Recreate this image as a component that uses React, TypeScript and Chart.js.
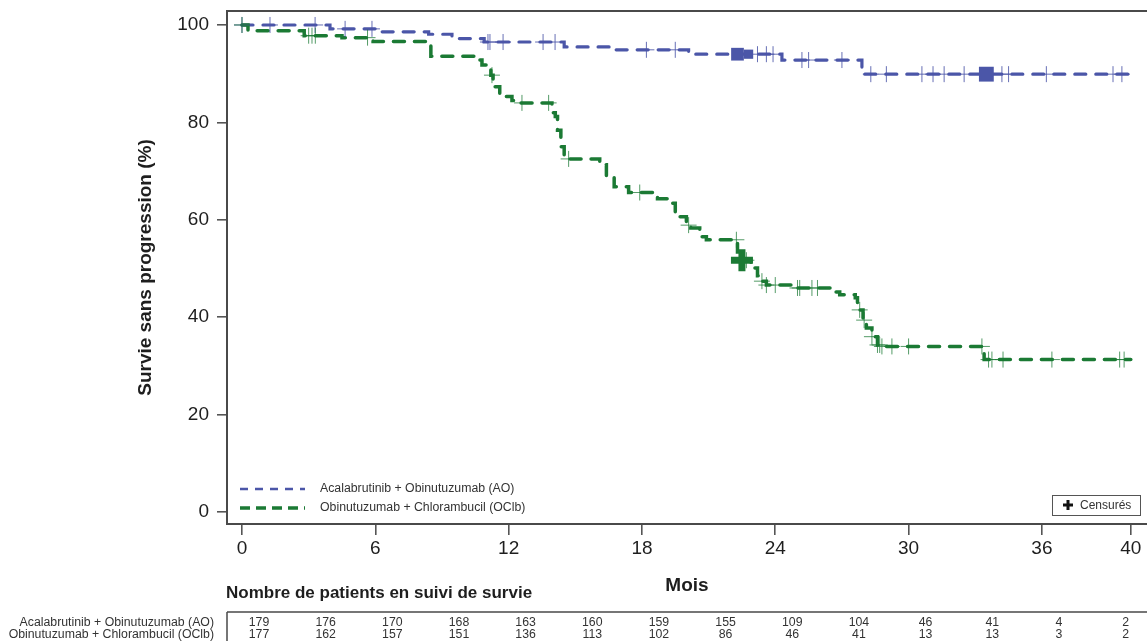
import React, { useEffect, useRef } from "react";
import { Chart, registerables } from "chart.js";

Chart.register(...registerables);

const FONT = "'Liberation Sans', Arial, Helvetica, sans-serif";
const BLUE = "#4b56a8";
const BLUE_MARK = "rgba(75,86,168,0.85)";
const GREEN = "#1b7a34";
const GREEN_MARK = "rgba(27,122,52,0.75)";
const AXIS = "#4a4a4a";
const TEXT = "#1e1e1e";

const seriesNames = ["Acalabrutinib + Obinutuzumab (AO)", "Obinutuzumab + Chlorambucil (OClb)"];
const xTitle = "Mois";
const yTitle = "Survie sans progression (%)";
const tableTitle = "Nombre de patients en suivi de survie";
const censorLabel = "Censurés";

// Kaplan-Meier steps (month, survival % after the step)
const aoTimes = [0, 3.96, 6.2, 8.4, 9.45, 10.9, 14.5, 16.8, 20.1, 24.3, 27.9, 40];
const aoSurv = [100, 99.2, 98.6, 98.1, 97.2, 96.5, 95.5, 94.9, 94.0, 92.8, 89.9, 89.9];

const ocTimes = [
  0, 0.27, 2.8, 4.5, 5.9, 8.5, 10.6, 10.8, 11.0, 11.2, 11.3, 11.6, 12.15, 12.4, 13.95, 14.1, 14.2,
  14.35, 14.5, 16.1, 16.4, 16.75, 17.4, 18.7, 19.35, 19.5, 19.6, 20.0, 20.2, 20.6, 20.9, 22.3, 22.5,
  22.9, 23.2, 23.4, 23.6, 24.75, 26.55, 26.9, 27.6, 27.7, 27.95, 28.1, 28.35, 28.6, 28.75, 33.4, 40,
];
const ocSurv = [
  100, 98.8, 97.8, 97.4, 96.6, 93.6, 92.8, 91.8, 90.8, 89.7, 87.3, 85.3, 84.5, 84.0, 82.0, 81.2, 78.4,
  75.0, 72.5, 71.3, 68.9, 66.8, 65.6, 64.3, 63.4, 61.4, 60.6, 58.9, 58.3, 56.5, 55.9, 53.4, 51.7,
  50.1, 48.5, 47.4, 46.6, 46.0, 45.2, 44.6, 44.0, 41.5, 39.4, 37.8, 36.0, 34.3, 34.0, 31.3, 31.3,
];

// censored observations (months)
const aoCensorTimes = [
  0, 1.26, 3.29, 4.64, 5.85, 11.07, 11.16, 11.75, 13.55, 14.09, 18.2, 19.5, 23.2, 23.6, 23.9, 25.2,
  25.5, 27.0, 28.3, 29.0, 30.6, 31.1, 31.6, 32.5, 34.2, 34.5, 36.2, 39.2, 39.6,
];
const aoBigCensorTimes = [22.3, 22.8, 33.5];
const aoBigCensorSizes = [9, 6.5, 10.5];
const ocCensorTimes = [
  0, 3.0, 3.15, 3.3, 5.65, 11.25, 12.6, 13.8, 14.7, 17.9, 20.1, 22.25, 22.7, 23.4, 23.6, 24.0, 25.0,
  25.1, 25.65, 25.9, 27.8, 28.0, 28.35, 28.6, 28.7, 28.8, 29.25, 30.0, 33.3, 33.6, 33.75, 34.25,
  36.45, 39.5, 39.7,
];
const ocBigCensorTimes = [22.5];

const xTicks = [0, 6, 12, 18, 24, 30, 36, 40];
const yTicks = [0, 20, 40, 60, 80, 100];

const tableMonths = [0, 3, 6, 9, 12, 15, 18, 21, 24, 27, 30, 33, 36, 39];
const aoAtRisk = [179, 176, 170, 168, 163, 160, 159, 155, 109, 104, 46, 41, 4, 2];
const ocAtRisk = [177, 162, 157, 151, 136, 113, 102, 86, 46, 41, 13, 13, 3, 2];

function stepValue(times: number[], surv: number[], t: number) {
  let v = surv[0];
  for (let i = 0; i < times.length; i++) if (times[i] <= t) v = surv[i];
  return v;
}

const kmPoints = (times: number[], surv: number[]) => times.map((t, i) => ({ x: t, y: surv[i] }));
const censorPoints = (ct: number[], times: number[], surv: number[]) =>
  ct.map((t) => ({ x: t, y: stepValue(times, surv, t) }));

export default function App() {
  const ref = useRef<HTMLCanvasElement | null>(null);

  useEffect(() => {
    if (!ref.current) return;

    const overlay = {
      id: "kmOverlay",
      afterDraw(chart: any) {
        const { ctx, chartArea } = chart;
        const { left, top, right, bottom } = chartArea;
        const xs = chart.scales.x;
        ctx.save();
        // top frame line
        ctx.strokeStyle = AXIS;
        ctx.lineWidth = 2;
        ctx.beginPath();
        ctx.moveTo(left, top);
        ctx.lineTo(right, top);
        ctx.stroke();

        // legend
        const lx0 = left + 13;
        const lx1 = left + 78;
        const legendY = [bottom - 35, bottom - 16];
        const legendColors = [BLUE, GREEN];
        const legendDash = [[8, 7], [10, 6]];
        const legendWidth = [2.5, 3.5];
        ctx.font = `12.3px ${FONT}`;
        ctx.textBaseline = "middle";
        ctx.textAlign = "left";
        for (let i = 0; i < 2; i++) {
          ctx.strokeStyle = legendColors[i];
          ctx.lineWidth = legendWidth[i];
          ctx.setLineDash(legendDash[i]);
          ctx.beginPath();
          ctx.moveTo(lx0, legendY[i]);
          ctx.lineTo(lx1, legendY[i]);
          ctx.stroke();
          ctx.fillStyle = "#333";
          ctx.fillText(seriesNames[i], left + 93, legendY[i]);
        }
        ctx.setLineDash([]);

        // Censurés box
        const bx0 = right - 95;
        const bx1 = right - 7;
        const by0 = bottom - 29;
        const by1 = bottom - 9;
        ctx.strokeStyle = "#555";
        ctx.lineWidth = 1;
        ctx.strokeRect(bx0 + 0.5, by0 + 0.5, bx1 - bx0, by1 - by0);
        const pcx = bx0 + 16;
        const pcy = (by0 + by1) / 2;
        ctx.fillStyle = "#111";
        ctx.fillRect(pcx - 5, pcy - 1.5, 10, 3);
        ctx.fillRect(pcx - 1.5, pcy - 5, 3, 10);
        ctx.fillStyle = "#333";
        ctx.font = `12px ${FONT}`;
        ctx.fillText(censorLabel, bx0 + 28, pcy + 0.5);

        // number-at-risk table
        ctx.fillStyle = TEXT;
        ctx.font = `bold 17px ${FONT}`;
        ctx.textAlign = "left";
        ctx.fillText(tableTitle, left - 1, 593);
        ctx.strokeStyle = AXIS;
        ctx.lineWidth = 1.5;
        ctx.beginPath();
        ctx.moveTo(left, 612);
        ctx.lineTo(right, 612);
        ctx.moveTo(left, 612);
        ctx.lineTo(left, 641);
        ctx.stroke();
        const rowY = [623, 635];
        const rows = [aoAtRisk, ocAtRisk];
        ctx.font = `12.3px ${FONT}`;
        for (let r = 0; r < 2; r++) {
          ctx.textAlign = "right";
          ctx.fillStyle = "#333";
          ctx.fillText(seriesNames[r], left - 13, rowY[r]);
          ctx.textAlign = "center";
          rows[r].forEach((n, i) => {
            ctx.fillText(String(n), xs.getPixelForValue(tableMonths[i]) + 17, rowY[r]);
          });
        }
        ctx.restore();
      },
    };

    const lineCommon = {
      type: "line" as const,
      stepped: "before" as const,
      borderWidth: 3.5,
      borderCapStyle: "round" as const,
      borderDash: [11, 10],
      pointRadius: 0,
      fill: false,
    };

    const chart = new Chart(ref.current, {
      type: "line",
      data: {
        datasets: [
          {
            type: "line",
            label: "OClb big censor",
            data: censorPoints(ocBigCensorTimes, ocTimes, ocSurv),
            showLine: false,
            pointStyle: "cross",
            pointRadius: 11,
            pointBorderWidth: 7,
            pointBorderColor: GREEN,
            borderColor: GREEN,
          },
          {
            type: "line",
            label: "AO big censor",
            data: censorPoints(aoBigCensorTimes, aoTimes, aoSurv),
            showLine: false,
            pointStyle: "rect",
            pointRadius: aoBigCensorSizes,
            pointBorderWidth: 0,
            pointBackgroundColor: BLUE,
            pointBorderColor: BLUE,
            borderColor: BLUE,
          },
          {
            type: "line",
            label: "OClb censor",
            data: censorPoints(ocCensorTimes, ocTimes, ocSurv),
            showLine: false,
            pointStyle: "cross",
            pointRadius: 8,
            pointBorderWidth: 1,
            pointBorderColor: GREEN_MARK,
            borderColor: GREEN_MARK,
          },
          {
            type: "line",
            label: "AO censor",
            data: censorPoints(aoCensorTimes, aoTimes, aoSurv),
            showLine: false,
            pointStyle: "cross",
            pointRadius: 8,
            pointBorderWidth: 1,
            pointBorderColor: BLUE_MARK,
            borderColor: BLUE_MARK,
          },
          {
            ...lineCommon,
            label: seriesNames[1],
            data: kmPoints(ocTimes, ocSurv),
            borderColor: GREEN,
          },
          {
            ...lineCommon,
            label: seriesNames[0],
            data: kmPoints(aoTimes, aoSurv),
            borderColor: BLUE,
            borderWidth: 3.2,
          },
        ],
      },
      options: {
        responsive: false,
        animation: false,
        layout: { autoPadding: false, padding: { left: 0, top: 11, right: 0, bottom: 0 } },
        plugins: {
          legend: { display: false },
          tooltip: { enabled: false },
        },
        scales: {
          x: {
            type: "linear",
            min: -0.675,
            max: 40.73,
            afterBuildTicks: (s: any) => {
              s.ticks = xTicks.map((v) => ({ value: v }));
            },
            afterFit: (s: any) => {
              s.height = 117;
              s.paddingLeft = 0;
              s.paddingRight = 0;
              s.paddingTop = 0;
              s.paddingBottom = 0;
            },
            grid: {
              drawOnChartArea: false,
              drawTicks: true,
              tickLength: 11,
              color: "#555",
              lineWidth: 1.6,
            },
            border: { display: true, color: AXIS, width: 2 },
            ticks: {
              font: { family: FONT, size: 19 },
              color: TEXT,
              padding: 2,
              maxRotation: 0,
              autoSkip: false,
            },
            title: {
              display: true,
              text: xTitle,
              font: { family: FONT, size: 19, weight: "bold" },
              color: TEXT,
              padding: { top: 0, bottom: 44 },
            },
          },
          y: {
            type: "linear",
            min: -2.46,
            max: 102.87,
            afterBuildTicks: (s: any) => {
              s.ticks = yTicks.map((v) => ({ value: v }));
            },
            afterFit: (s: any) => {
              s.width = 227;
              s.paddingLeft = 0;
              s.paddingRight = 0;
              s.paddingTop = 0;
              s.paddingBottom = 0;
            },
            grid: {
              drawOnChartArea: false,
              drawTicks: true,
              tickLength: 10,
              color: "#555",
              lineWidth: 1.6,
            },
            border: { display: true, color: AXIS, width: 2 },
            ticks: {
              font: { family: FONT, size: 19 },
              color: TEXT,
              padding: 8,
            },
            title: {
              display: true,
              text: yTitle,
              font: { family: FONT, size: 19, weight: "bold" },
              color: TEXT,
              padding: { top: 134, bottom: 0 },
            },
          },
        },
      },
      plugins: [overlay],
    } as any);

    return () => chart.destroy();
  }, []);

  return (
    <div style={{ position: "absolute", left: 0, top: 0, width: 1147, height: 641, background: "#fff" }}>
      <canvas ref={ref} width={1147} height={641} style={{ display: "block", width: 1147, height: 641 }} />
    </div>
  );
}
